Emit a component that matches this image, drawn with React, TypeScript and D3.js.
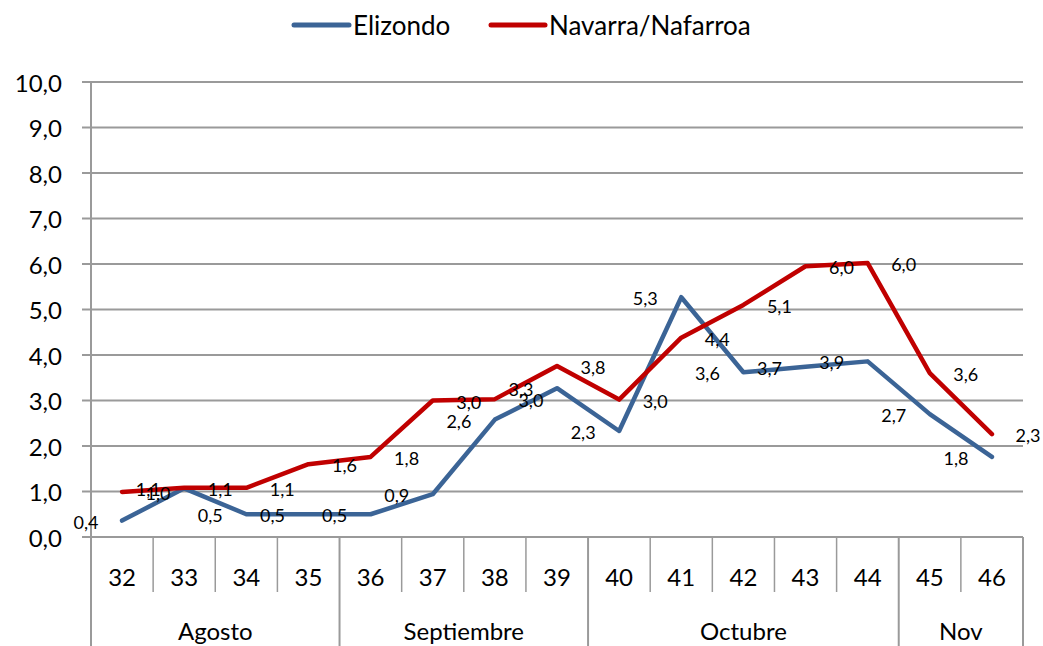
import React from 'react';
import * as d3 from 'd3';

// semanas epidemiológicas
const weeks = ['32', '33', '34', '35', '36', '37', '38', '39', '40', '41', '42', '43', '44', '45', '46'];
const months = ['Agosto', 'Septiembre', 'Octubre', 'Nov'];
const monthSpan = [4, 4, 5, 2];

const elizondo = [0.36, 1.07, 0.5, 0.5, 0.5, 0.94, 2.58, 3.27, 2.33, 5.27, 3.62, 3.74, 3.86, 2.7, 1.76];
const navarra = [0.99, 1.08, 1.08, 1.6, 1.76, 3.0, 3.03, 3.76, 3.02, 4.38, 5.1, 5.95, 6.02, 3.6, 2.26];
const yTicks = [0, 1, 2, 3, 4, 5, 6, 7, 8, 9, 10];

const W = 1043;
const H = 646;
const FONT = 'Lato, "Open Sans", sans-serif';
const BLUE = '#3b6496';
const RED = '#c00000';
const GRID = '#9a9a9a';

const fmt = (v: number) => v.toFixed(1).replace('.', ',');

const App: React.FC = () => {
  const left = 91;
  const right = 1023;
  const axisY = 537;

  const x = d3.scaleBand<string>().domain(weeks).range([left, right]);
  const y = d3.scaleLinear().domain([0, 10]).range([axisY, 82]);
  const cx = (w: string) => (x(w) ?? 0) + x.bandwidth() / 2;

  const line = d3.line<number>()
    .x((_, i) => cx(weeks[i]))
    .y(d => y(d));

  const series = [
    { name: 'Elizondo', values: elizondo, color: BLUE, dx: -36 },
    { name: 'Navarra/Nafarroa', values: navarra, color: RED, dx: 36 },
  ];

  // month boundaries in category index
  const bounds = monthSpan.reduce<number[]>((acc, n) => [...acc, acc[acc.length - 1] + n], [0]);

  return (
    <svg width={W} height={H} style={{ position: 'absolute', left: 0, top: 0, background: '#fff' }}>
      {/* legend */}
      <g fontFamily={FONT} fontSize={26} fill="#000">
        <line x1={294} x2={349} y1={25} y2={25} stroke={BLUE} strokeWidth={5} strokeLinecap="round" />
        <text x={353} y={25} dominantBaseline="central">Elizondo</text>
        <line x1={491} x2={545} y1={25} y2={25} stroke={RED} strokeWidth={5} strokeLinecap="round" />
        <text x={549} y={25} dominantBaseline="central">Navarra/Nafarroa</text>
      </g>

      {/* grid + y axis */}
      {yTicks.map(t => (
        <g key={t}>
          <line x1={left - 9} x2={right} y1={y(t)} y2={y(t)} stroke={GRID} strokeWidth={2} />
          <text x={62} y={y(t)} textAnchor="end" dominantBaseline="central" fontFamily={FONT} fontSize={24}>
            {fmt(t)}
          </text>
        </g>
      ))}
      <line x1={left} x2={left} y1={y(10)} y2={H} stroke={GRID} strokeWidth={2} />
      <line x1={right} x2={right} y1={axisY} y2={H} stroke={GRID} strokeWidth={2} />

      {/* category separators */}
      {weeks.slice(1).map((w, i) => {
        const isMonth = bounds.includes(i + 1);
        return (
          <line key={w} x1={x(w)} x2={x(w)} y1={axisY} y2={isMonth ? H : 592}
            stroke={GRID} strokeWidth={isMonth ? 2 : 1.5} />
        );
      })}
      {weeks.map(w => (
        <text key={w} x={cx(w)} y={576} textAnchor="middle" dominantBaseline="central"
          fontFamily={FONT} fontSize={24}>{w}</text>
      ))}
      {months.map((m, i) => {
        const x0 = x(weeks[bounds[i]]) ?? 0;
        const x1 = bounds[i + 1] < weeks.length ? (x(weeks[bounds[i + 1]]) ?? 0) : right;
        return (
          <text key={m} x={(x0 + x1) / 2} y={630} textAnchor="middle" dominantBaseline="central"
            fontFamily={FONT} fontSize={24}>{m}</text>
        );
      })}

      {/* lines */}
      {series.map(s => (
        <path key={s.name} d={line(s.values) ?? ''} fill="none" stroke={s.color}
          strokeWidth={4.5} strokeLinejoin="round" strokeLinecap="round" />
      ))}

      {/* data labels */}
      {series.map(s => (
        <g key={s.name + '-lbl'} fontFamily={FONT} fontSize={18}>
          {s.values.map((v, i) => (
            <text key={i} x={cx(weeks[i]) + s.dx} y={y(v) + 1} textAnchor="middle" dominantBaseline="central">
              {fmt(v)}
            </text>
          ))}
        </g>
      ))}
    </svg>
  );
};

export default App;
